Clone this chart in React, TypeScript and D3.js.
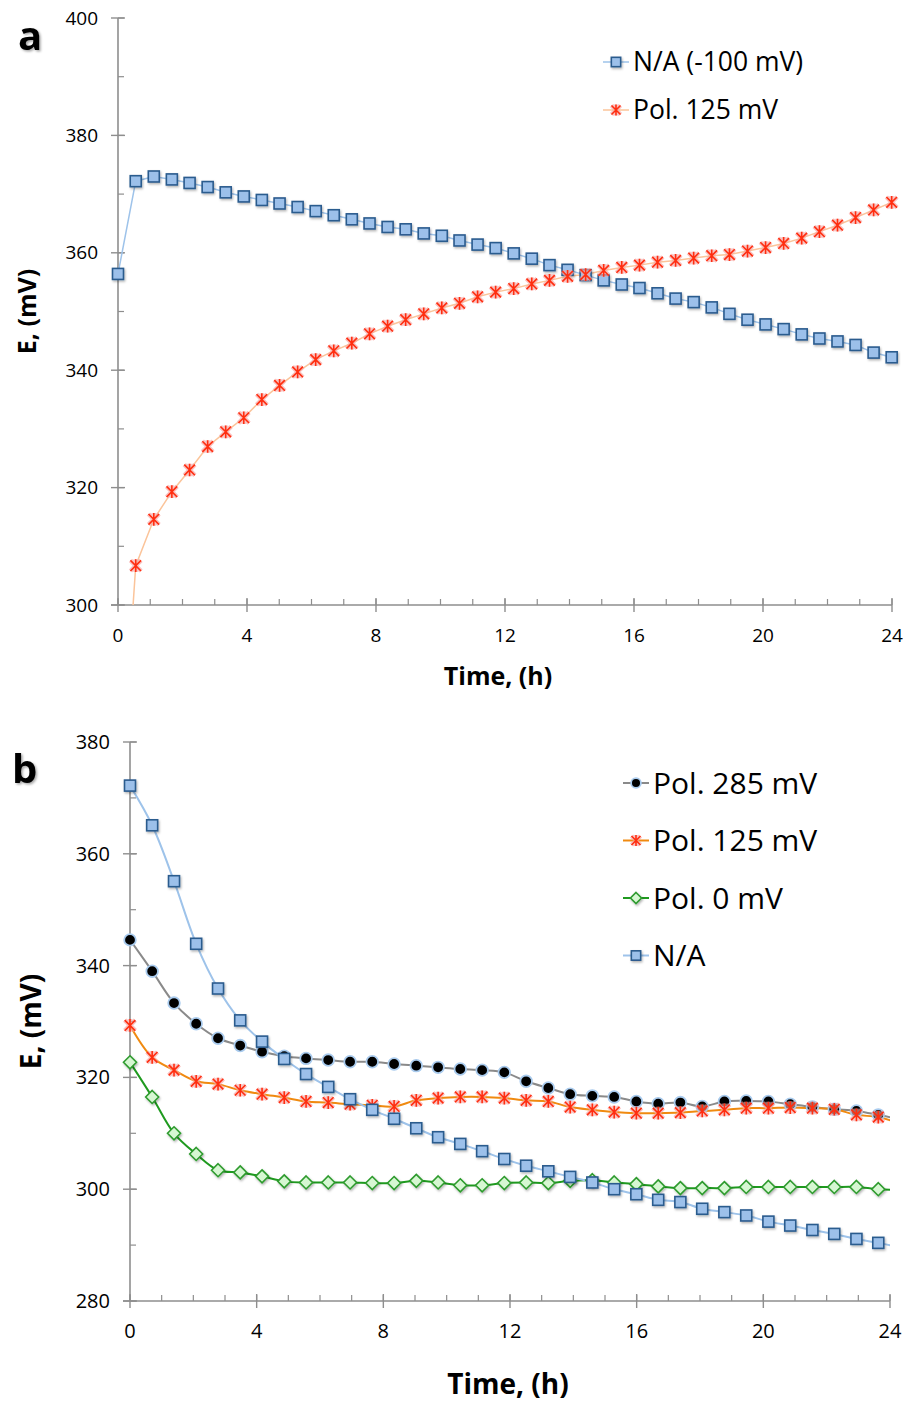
import React from "react";
import * as d3 from "d3";

// panel a: sampling times (h) and potentials (mV)
const timeA = [0, 0.55, 1.11, 1.67, 2.22, 2.78, 3.34, 3.9, 4.46, 5.01, 5.57, 6.13, 6.69, 7.25, 7.8, 8.36, 8.92, 9.48, 10.04, 10.59, 11.15, 11.71, 12.27, 12.83, 13.38, 13.94, 14.5, 15.06, 15.62, 16.17, 16.73, 17.29, 17.85, 18.41, 18.96, 19.52, 20.08, 20.64, 21.2, 21.75, 22.31, 22.87, 23.43, 23.99];
const naA = [356.4, 372.2, 373.0, 372.5, 371.9, 371.2, 370.3, 369.6, 369.0, 368.4, 367.8, 367.1, 366.4, 365.7, 365.0, 364.4, 364.0, 363.3, 362.9, 362.1, 361.4, 360.8, 359.9, 359.0, 357.9, 357.1, 356.2, 355.3, 354.6, 354.0, 353.1, 352.2, 351.6, 350.7, 349.6, 348.6, 347.8, 347.0, 346.1, 345.4, 344.9, 344.3, 343.0, 342.2];
const pol125A = [262, 306.7, 314.6, 319.3, 323.0, 327.0, 329.5, 331.9, 335.0, 337.4, 339.7, 341.8, 343.3, 344.6, 346.2, 347.5, 348.6, 349.6, 350.6, 351.4, 352.5, 353.3, 353.9, 354.7, 355.3, 356.0, 356.3, 357.0, 357.5, 357.9, 358.4, 358.7, 359.1, 359.5, 359.7, 360.3, 360.9, 361.6, 362.5, 363.6, 364.7, 366.0, 367.3, 368.6];

// panel b
const timeB = [0, 0.7, 1.39, 2.09, 2.78, 3.48, 4.17, 4.87, 5.56, 6.26, 6.95, 7.65, 8.34, 9.04, 9.73, 10.43, 11.12, 11.82, 12.51, 13.21, 13.9, 14.6, 15.29, 15.99, 16.68, 17.38, 18.07, 18.77, 19.46, 20.16, 20.85, 21.55, 22.24, 22.94, 23.63, 24.33];
const pol285B = [344.6, 339.0, 333.3, 329.6, 327.0, 325.7, 324.6, 323.8, 323.4, 323.1, 322.8, 322.8, 322.4, 322.1, 321.8, 321.5, 321.3, 320.9, 319.3, 318.1, 317.0, 316.7, 316.5, 315.7, 315.3, 315.5, 314.8, 315.7, 315.8, 315.7, 315.2, 314.7, 314.3, 314.0, 313.3, 312.5];
const pol125B = [329.3, 323.6, 321.3, 319.3, 318.8, 317.7, 317.0, 316.4, 315.7, 315.5, 315.2, 315.0, 314.8, 315.9, 316.3, 316.5, 316.5, 316.3, 315.9, 315.7, 314.7, 314.2, 313.8, 313.6, 313.6, 313.7, 314.0, 314.2, 314.5, 314.5, 314.6, 314.5, 314.3, 313.3, 312.9, 311.7];
const pol0B = [322.7, 316.5, 310.0, 306.3, 303.4, 303.0, 302.3, 301.4, 301.2, 301.2, 301.2, 301.1, 301.1, 301.5, 301.2, 300.7, 300.7, 301.1, 301.2, 301.1, 301.5, 301.6, 301.2, 300.9, 300.5, 300.2, 300.2, 300.2, 300.4, 300.4, 300.4, 300.4, 300.4, 300.4, 300.0, 299.9];
const naB = [372.2, 365.1, 355.1, 343.9, 335.9, 330.2, 326.4, 323.3, 320.6, 318.3, 316.1, 314.2, 312.6, 310.9, 309.3, 308.1, 306.8, 305.4, 304.2, 303.2, 302.2, 301.2, 300.0, 299.1, 298.1, 297.7, 296.5, 295.9, 295.3, 294.2, 293.5, 292.7, 292.0, 291.1, 290.4, 289.6];

const xTicks = [0, 4, 8, 12, 16, 20, 24];
const yTicksA = [300, 320, 340, 360, 380, 400];
const yTicksB = [280, 300, 320, 340, 360, 380];

const FONT = "'Open Sans', sans-serif";
const AXIS = "#8e8e8e";

type Kind = "square" | "star" | "circle" | "diamond";

function Marker({ kind, x, y, s = 1 }: { kind: Kind; x: number; y: number; s?: number }) {
  if (kind === "square") {
    const h = 5.5 * s;
    return <rect x={x - h} y={y - h} width={2 * h} height={2 * h} fill="#9cc0ea" stroke="#2b5b8e" strokeWidth={1.6} filter="url(#shadow)" />;
  }
  if (kind === "diamond") {
    const h = 6.5 * s;
    return <path d={`M${x},${y - h}L${x + h},${y}L${x},${y + h}L${x - h},${y}Z`} fill="#d6f7d2" stroke="#2e9b2e" strokeWidth={1.6} filter="url(#shadow)" />;
  }
  if (kind === "circle") {
    return <circle cx={x} cy={y} r={5.8 * s} fill="#000" stroke="#a9cbee" strokeWidth={1.8} />;
  }
  const h = 5.3 * s;
  const d = `M${x - h},${y - h}L${x + h},${y + h}M${x - h},${y + h}L${x + h},${y - h}M${x},${y - h * 1.2}L${x},${y + h * 1.2}`;
  return (
    <g>
      <path d={d} stroke="#f7a3a0" strokeWidth={4.5} opacity={0.65} />
      <path d={d} stroke="#ff2e10" strokeWidth={1.6} />
    </g>
  );
}

type Series = { name: string; values: number[]; kind: Kind; line: string; lw: number };

function Panel({ id, times, series, yTicks, x0, x1, y0, y1, label, legendX, legendY, legendGap, legendSize, tickSize, titleSize, xTitleX, xTitleY, yTitleX, letterX, letterY, smooth }: any) {
  const x = d3.scaleLinear().domain([0, 24]).range([x0, x1]);
  const y = d3.scaleLinear().domain([yTicks[0], yTicks[yTicks.length - 1]]).range([y1, y0]);
  const line = d3.line<number>().x((_, i) => x(times[i])).y((d) => y(d))
    .curve(smooth ? d3.curveCatmullRom.alpha(0.5) : d3.curveLinear);
  const minorX = d3.range(0, 25, 1);
  const minorY = d3.range(yTicks[0], yTicks[yTicks.length - 1] + 1, 10);
  return (
    <g>
      <defs>
        <clipPath id={`clip-${id}`}>
          <rect x={x0} y={y0 - 20} width={x1 - x0} height={y1 - y0 + 20} />
        </clipPath>
      </defs>
      {/* axes */}
      <line x1={x0} x2={x0} y1={y0} y2={y1} stroke={AXIS} strokeWidth={1.6} />
      <line x1={x0 - 7} x2={x1} y1={y1} y2={y1} stroke={AXIS} strokeWidth={1.6} />
      {minorY.map((v) => (
        <line key={"my" + v} x1={x0} x2={x0 + 6} y1={y(v)} y2={y(v)} stroke={AXIS} strokeWidth={1.2} />
      ))}
      {yTicks.map((v: number) => (
        <g key={"y" + v}>
          <line x1={x0 - 7} x2={x0 + 7} y1={y(v)} y2={y(v)} stroke={AXIS} strokeWidth={1.4} />
          <text x={x0 - 20} y={y(v)} dy="0.35em" textAnchor="end" fontSize={tickSize} fontFamily={FONT}>{v}</text>
        </g>
      ))}
      {minorX.map((v) => (
        <line key={"mx" + v} x1={x(v)} x2={x(v)} y1={y1 - 6} y2={y1} stroke={AXIS} strokeWidth={1.2} />
      ))}
      {xTicks.map((v) => (
        <g key={"x" + v}>
          <line x1={x(v)} x2={x(v)} y1={y1 - 7} y2={y1 + 7} stroke={AXIS} strokeWidth={1.4} />
          <text x={x(v)} y={y1 + 30} dy="0.35em" textAnchor="middle" fontSize={tickSize} fontFamily={FONT}>{v}</text>
        </g>
      ))}
      <text x={xTitleX} y={xTitleY} textAnchor="middle" fontSize={titleSize} fontWeight="bold" fontFamily={FONT}>Time, (h)</text>
      <text transform={`translate(${yTitleX},${(y0 + y1) / 2}) rotate(-90)`} textAnchor="middle" fontSize={titleSize} fontWeight="bold" fontFamily={FONT}>E, (mV)</text>
      <text x={letterX} y={letterY} fontSize={40} fontWeight="bold" fontFamily={FONT} filter="url(#letterShadow)">{label}</text>
      {/* lines */}
      <g clipPath={`url(#clip-${id})`}>
        {series.map((s: Series) => (
          <path key={s.name} d={line(s.values) || ""} fill="none" stroke={s.line} strokeWidth={s.lw} />
        ))}
      </g>
      {series.map((s: Series) => (
        <g key={s.name + "m"}>
          {s.values.map((v, i) =>
            times[i] <= 24 && v >= yTicks[0] ? <Marker key={i} kind={s.kind} x={x(times[i])} y={y(v)} /> : null
          )}
        </g>
      ))}
      {/* legend */}
      {series.map((s: Series, i: number) => {
        const ly = legendY + i * legendGap;
        return (
          <g key={s.name + "l"}>
            <line x1={legendX} x2={legendX + 26} y1={ly} y2={ly} stroke={s.line} strokeWidth={s.lw} />
            <Marker kind={s.kind} x={legendX + 13} y={ly} s={0.85} />
            <text x={legendX + 30} y={ly} dy="0.35em" fontSize={legendSize} fontFamily={FONT}>{s.name}</text>
          </g>
        );
      })}
    </g>
  );
}

export default function App() {
  const seriesA: Series[] = [
    { name: "N/A (-100 mV)", values: naA, kind: "square", line: "#9ec3ea", lw: 1.5 },
    { name: "Pol. 125 mV", values: pol125A, kind: "star", line: "#fbc49a", lw: 1.5 },
  ];
  const seriesB: Series[] = [
    { name: "Pol. 285 mV", values: pol285B, kind: "circle", line: "#8a8a8a", lw: 2 },
    { name: "Pol. 125 mV", values: pol125B, kind: "star", line: "#f08a10", lw: 2 },
    { name: "Pol. 0 mV", values: pol0B, kind: "diamond", line: "#1f9a1f", lw: 2 },
    { name: "N/A", values: naB, kind: "square", line: "#9ec3ea", lw: 2 },
  ];
  return (
    <svg width={908} height={1401} style={{ position: "absolute", left: 0, top: 0, background: "#fff" }}>
      <defs>
        <filter id="shadow" x="-50%" y="-50%" width="200%" height="200%">
          <feDropShadow dx={1} dy={1.5} stdDeviation={1} floodColor="#000" floodOpacity={0.3} />
        </filter>
        <filter id="letterShadow" x="-20%" y="-20%" width="150%" height="150%">
          <feDropShadow dx={1.5} dy={1.5} stdDeviation={1} floodColor="#000" floodOpacity={0.35} />
        </filter>
      </defs>
      <Panel id="a" times={timeA} series={seriesA} yTicks={yTicksA} x0={118} x1={892} y0={18} y1={605}
        label="a" legendX={603} legendY={62} legendGap={48} legendSize={26.5} tickSize={19} titleSize={25}
        xTitleX={498} xTitleY={685} yTitleX={36} letterX={18} letterY={50} smooth={false} />
      <Panel id="b" times={timeB} series={seriesB} yTicks={yTicksB} x0={130} x1={890} y0={742} y1={1301}
        label="b" legendX={623} legendY={783} legendGap={57.5} legendSize={30} tickSize={20} titleSize={28}
        xTitleX={508} xTitleY={1394} yTitleX={41} letterX={12} letterY={783} smooth={true} />
    </svg>
  );
}
